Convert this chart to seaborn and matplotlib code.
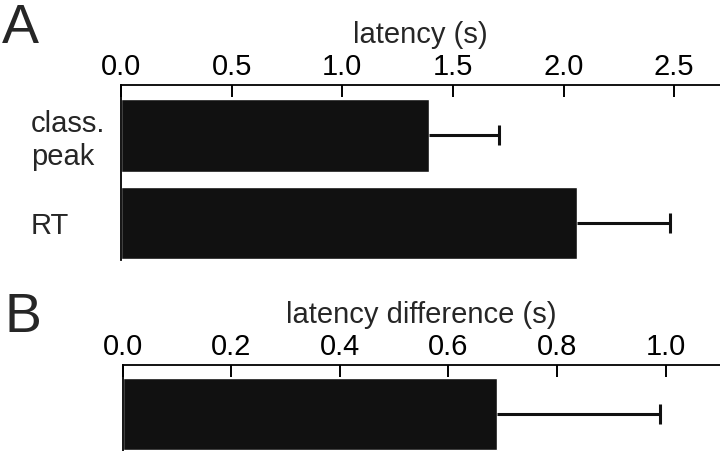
import matplotlib
matplotlib.use("Agg")
import matplotlib.pyplot as plt
import seaborn as sns
import numpy as np

# panel A: latency per measure
cats_a = ["class.\npeak", "RT"]
lat_a = [1.39, 2.06]
err_a = [0.32, 0.42]
ticks_a = [0.0, 0.5, 1.0, 1.5, 2.0, 2.5]

# panel B: latency difference
cats_b = ["diff"]
lat_b = [0.69]
err_b = [0.30]
ticks_b = [0.0, 0.2, 0.4, 0.6, 0.8, 1.0]

sns.set_style("white")
plt.rcParams['font.family'] = ['Liberation Sans', 'DejaVu Sans']

BAR = "#111111"
fig = plt.figure(figsize=(7.2, 4.51), dpi=100)
axA = fig.add_axes([121/720, 1-260/451, 599/720, 175/451])
axB = fig.add_axes([122.7/720, 0.0, 597.3/720, 86/451])


def style_ax(ax, ticks, xlim, label):
    ax.xaxis.tick_top()
    ax.xaxis.set_label_position("top")
    ax.set_xticks(ticks)
    ax.set_xticklabels([f"{t:.1f}" for t in ticks])
    ax.set_xlim(*xlim)
    ax.tick_params(axis="x", direction="in", length=8.5, width=1.4,
                   labelsize=21, pad=3, colors="black")
    ax.set_xlabel(label, fontsize=21, labelpad=7)
    for s in ["right", "bottom"]:
        ax.spines[s].set_visible(False)
    for s in ["top", "left"]:
        ax.spines[s].set_color("black")
        ax.spines[s].set_linewidth(1.3)


def one_sided_err(ax, vals, errs):
    _, caps, _ = ax.errorbar(vals, np.arange(len(vals)),
                             xerr=[np.zeros(len(errs)), errs], fmt="none",
                             ecolor=BAR, elinewidth=2.2, capsize=7, capthick=2.2)
    caps[0].set_visible(False)  # no cap at the bar end


# A
sns.barplot(x=lat_a, y=cats_a, orient="h", color=BAR, saturation=1,
            width=0.83, ax=axA)
one_sided_err(axA, lat_a, err_a)
axA.set_ylim(1.423, -0.577)
style_ax(axA, ticks_a, (0, 2.707), "latency (s)")
axA.set_ylabel("")
axA.tick_params(axis="y", length=0, labelsize=21, pad=65)
for lab in axA.get_yticklabels():
    lab.set_horizontalalignment("left")

# B
sns.barplot(x=lat_b, y=cats_b, orient="h", color=BAR, saturation=1,
            width=0.83, ax=axB)
one_sided_err(axB, lat_b, err_b)
axB.set_ylim(0.423, -0.56)
style_ax(axB, ticks_b, (0, 1.1), "latency difference (s)")
axB.set_ylabel("")
axB.set_yticks([])

fig.text(0.003, 1-43/451, "A", fontsize=40)
fig.text(0.006, 1-332/451, "B", fontsize=40)

fig.savefig("out.png", dpi=100)
